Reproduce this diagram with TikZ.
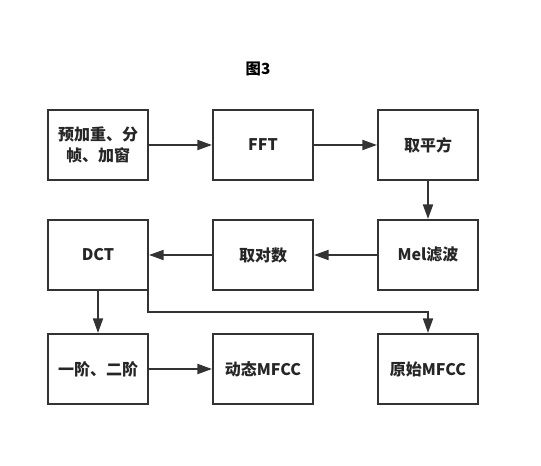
\documentclass[tikz,border=0pt]{standalone}
\usepackage{fontspec}
\setmainfont{Noto Sans CJK SC}
\usepackage{tikz}
\usetikzlibrary{arrows.meta,positioning,calc}

\definecolor{linegray}{HTML}{333333}

\begin{document}
\begin{tikzpicture}[x=0.75pt,y=-0.75pt,>={Triangle[length=11pt,width=7.5pt]},
    node distance=123.75pt,
    box/.style={draw=linegray,line width=1.5pt,minimum width=75pt,minimum height=52.5pt,
      align=center,font=\fontsize{12}{16}\selectfont\bfseries,text=black!85},
    flow/.style={->,draw=linegray,line width=1.5pt}]
  \useasboundingbox (0,0) rectangle (541,466);
  \node[font=\fontsize{11.5}{13}\selectfont\bfseries] (title) at (258,69) {图3};

  \node[box] (pre)  at (98,145)      {预加重、分\\帧、加窗};
  \node[box] (fft)  [right of=pre]   {FFT};
  \node[box] (sq)   [right of=fft]   {取平方};
  \node[box] (mel)  [below of=sq, node distance=82.5pt]  {Mel滤波};
  \node[box] (log)  [left of=mel]    {取对数};
  \node[box] (dct)  [left of=log]    {DCT};
  \node[box] (diff) [below of=dct, node distance=85.5pt] {一阶、二阶};
  \node[box] (dyn)  [right of=diff]  {动态MFCC};
  \node[box] (raw)  [below of=mel, node distance=85.5pt] {原始MFCC};

  \coordinate (bend) at ($(dct.south east)+(-1,21)$);

  \draw[flow] (pre) -- (fft);
  \draw[flow] (fft) -- (sq);
  \draw[flow] (sq) -- (mel);
  \draw[flow] (mel) -- (log);
  \draw[flow] (log) -- (dct);
  \draw[flow] (dct) -- (diff);
  \draw[flow] (diff) -- (dyn);
  \draw[flow] ($(dct.south east)+(-1,0)$) -- (bend) -| (raw.north);
\end{tikzpicture}
\end{document}
